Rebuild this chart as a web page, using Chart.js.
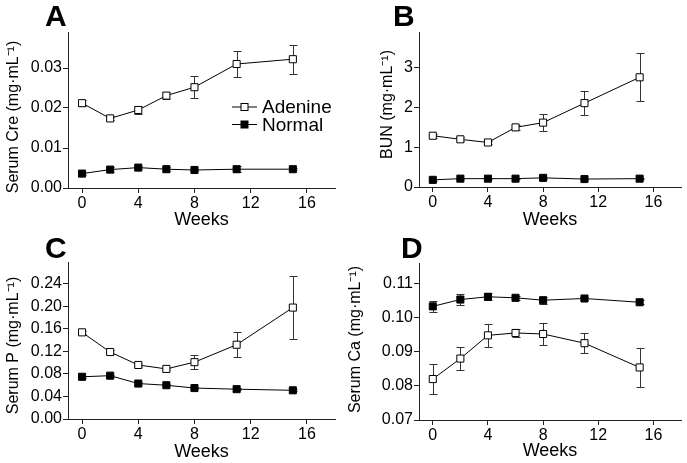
<!DOCTYPE html>
<html>
<head>
<meta charset="utf-8">
<script src="https://cdn.jsdelivr.net/npm/chart.js@4"></script>
<style>
  body { margin: 0; background: #fff; }
  #wrap { position: relative; width: 687px; height: 463px; background: #fff; }
  canvas { position: absolute; }
  .lbl { position: absolute; font: bold 30px "Liberation Sans", Arial, sans-serif; line-height: 30px; color: #000; }
</style>
</head>
<body>
<div id="wrap">
  <canvas id="cA" width="343" height="231" style="left:0;top:0"></canvas>
  <canvas id="cB" width="344" height="231" style="left:343px;top:0"></canvas>
  <canvas id="cC" width="343" height="232" style="left:0;top:231px"></canvas>
  <canvas id="cD" width="344" height="232" style="left:343px;top:231px"></canvas>
  <div class="lbl" style="left:45px;top:1px">A</div>
  <div class="lbl" style="left:393px;top:1px">B</div>
  <div class="lbl" style="left:45px;top:233px">C</div>
  <div class="lbl" style="left:401px;top:233px">D</div>
</div>
<script>
// sampling weeks
const weeks = [0, 2, 4, 6, 8, 11, 15];
const xTicks = [0, 4, 8, 12, 16];

// A: serum creatinine
const creAdenine = [0.0212, 0.0174, 0.0195, 0.0231, 0.0252, 0.0310, 0.0322];
const creAdenineErr = [0.0008, 0.0004, 0.0010, 0.0009, 0.0028, 0.0032, 0.0036];
const creNormal = [0.0036, 0.0046, 0.0051, 0.0047, 0.0045, 0.0047, 0.0047];
const creNormalErr = [0.0003, 0.0006, 0.0004, 0.0005, 0.0003, 0.0008, 0.0003];

// B: BUN
const bunAdenine = [1.29, 1.20, 1.12, 1.50, 1.62, 2.11, 2.76];
const bunAdenineErr = [0.05, 0.05, 0.05, 0.06, 0.22, 0.30, 0.60];
const bunNormal = [0.18, 0.21, 0.21, 0.21, 0.23, 0.20, 0.21];
const bunNormalErr = [0.02, 0.02, 0.02, 0.02, 0.03, 0.02, 0.02];

// C: serum phosphorus
const pAdenine = [0.154, 0.119, 0.096, 0.089, 0.101, 0.132, 0.198];
const pAdenineErr = [0.003, 0.003, 0.003, 0.002, 0.013, 0.022, 0.056];
const pNormal = [0.075, 0.077, 0.063, 0.060, 0.055, 0.053, 0.051];
const pNormalErr = [0.002, 0.002, 0.002, 0.002, 0.002, 0.002, 0.002];

// D: serum calcium
const caAdenine = [0.0820, 0.0880, 0.0948, 0.0955, 0.0952, 0.0925, 0.0854];
const caAdenineErr = [0.0045, 0.0034, 0.0033, 0.0013, 0.0033, 0.0030, 0.0057];
const caNormal = [0.1033, 0.1053, 0.1061, 0.1058, 0.1051, 0.1056, 0.1045];
const caNormalErr = [0.0017, 0.0017, 0.0010, 0.0005, 0.0010, 0.0005, 0.0006];

const FONT = "'Liberation Sans', Arial, sans-serif";
const AXIS = "#222";

// error bars drawn before the points so markers sit on top
const errorBars = {
  id: "errorBars",
  beforeDatasetsDraw(chart) {
    const ctx = chart.ctx;
    const y = chart.scales.y;
    ctx.save();
    ctx.strokeStyle = "#333";
    ctx.lineWidth = 1;
    chart.data.datasets.forEach((ds, i) => {
      const meta = chart.getDatasetMeta(i);
      meta.data.forEach((pt, j) => {
        const e = ds.errors[j];
        const top = Math.round(y.getPixelForValue(ds.data[j].y + e)) + 0.5;
        const bot = Math.round(y.getPixelForValue(ds.data[j].y - e)) + 0.5;
        const x = Math.round(pt.x) + 0.5;
        ctx.beginPath();
        ctx.moveTo(x, top); ctx.lineTo(x, bot);
        ctx.moveTo(x - 4, top); ctx.lineTo(x + 4, top);
        ctx.moveTo(x - 4, bot); ctx.lineTo(x + 4, bot);
        ctx.stroke();
      });
    });
    ctx.restore();
  }
};

// legend inside panel A
const innerLegend = {
  id: "innerLegend",
  afterDatasetsDraw(chart, args, opts) {
    if (!opts.show) return;
    const ctx = chart.ctx;
    ctx.save();
    chart.data.datasets.forEach((ds, i) => {
      const yy = opts.y + i * 17.5;
      ctx.strokeStyle = "#000";
      ctx.lineWidth = 1;
      ctx.beginPath();
      ctx.moveTo(opts.x, yy); ctx.lineTo(opts.x + 25, yy);
      ctx.stroke();
      ctx.fillStyle = ds.pointBackgroundColor;
      ctx.fillRect(opts.x + 9, yy - 3.5, 7, 7);
      ctx.strokeRect(opts.x + 9, yy - 3.5, 7, 7);
      ctx.fillStyle = "#000";
      ctx.font = "19px " + FONT;
      ctx.textBaseline = "middle";
      ctx.fillText(ds.label, opts.x + 30, yy + 1);
    });
    ctx.restore();
  }
};

// y axis title, placed by hand so it can sit off-centre like the original
const yTitle = {
  id: "yTitle",
  afterDraw(chart, args, opts) {
    const ctx = chart.ctx;
    const area = chart.chartArea;
    ctx.save();
    ctx.translate(opts.x, (area.top + area.bottom) / 2 + opts.shift);
    ctx.rotate(-Math.PI / 2);
    ctx.fillStyle = "#000";
    ctx.font = "16px " + FONT;
    ctx.textAlign = "center";
    ctx.textBaseline = "middle";
    ctx.fillText(opts.text, 0, 0);
    ctx.restore();
  }
};

function series(vals) {
  return vals.map((v, i) => ({ x: weeks[i], y: v }));
}

function makePanel(id, p) {
  const ds = (label, vals, errs, fill) => ({
    label: label,
    data: series(vals),
    errors: errs,
    borderColor: "#000",
    borderWidth: 1,
    pointStyle: "rect",
    pointRadius: 5,
    pointBorderWidth: 1,
    pointBorderColor: "#000",
    pointBackgroundColor: fill,
    tension: 0,
    clip: false
  });
  new Chart(document.getElementById(id), {
    type: "line",
    data: {
      datasets: [
        ds("Adenine", p.adenine, p.adenineErr, "#fff"),
        ds("Normal", p.normal, p.normalErr, "#000")
      ]
    },
    plugins: [errorBars, innerLegend, yTitle],
    options: {
      responsive: false,
      animation: false,
      events: [],
      layout: { padding: { top: p.top, right: p.right, left: 0, bottom: 0 } },
      plugins: {
        legend: { display: false },
        tooltip: { enabled: false },
        innerLegend: p.legend || { show: false },
        yTitle: { text: p.yTitle, x: p.yTitleX, shift: p.yTitleShift }
      },
      scales: {
        x: {
          type: "linear",
          min: -1,
          max: 18,
          afterBuildTicks: (s) => { s.ticks = xTicks.map(v => ({ value: v })); },
          afterFit: (s) => { s.height = p.xHeight; },
          grid: { drawOnChartArea: false, tickLength: 5, color: AXIS },
          border: { color: AXIS, width: 1 },
          ticks: { color: "#000", padding: 1, font: { family: FONT, size: 16 } },
          title: {
            display: true, text: "Weeks", color: "#000",
            font: { family: FONT, size: 18 },
            padding: { top: 0, bottom: p.xTitlePad }
          }
        },
        y: {
          min: p.yMin,
          max: p.yMax,
          afterBuildTicks: (s) => { s.ticks = p.yTicks.map(v => ({ value: v })); },
          afterFit: (s) => { s.width = p.yWidth; },
          grid: { drawOnChartArea: false, tickLength: 5, color: AXIS },
          border: { color: AXIS, width: 1 },
          ticks: {
            color: "#000", padding: 1, font: { family: FONT, size: 16 },
            callback: (v) => v.toFixed(p.digits)
          }
        }
      }
    }
  });
}

makePanel("cA", {
  adenine: creAdenine, adenineErr: creAdenineErr, normal: creNormal, normalErr: creNormalErr,
  yMin: 0, yMax: 0.039, yTicks: [0, 0.01, 0.02, 0.03], digits: 2,
  yTitle: "Serum Cre (mg·mL⁻¹)", yTitleX: 14, yTitleShift: 7,
  top: 32, right: 8, yWidth: 68, xHeight: 43, xTitlePad: 0.2,
  legend: { show: true, x: 232, y: 107 }
});
makePanel("cB", {
  adenine: bunAdenine, adenineErr: bunAdenineErr, normal: bunNormal, normalErr: bunNormalErr,
  yMin: 0, yMax: 3.9, yTicks: [0, 1, 2, 3], digits: 0,
  yTitle: "BUN (mg·mL⁻¹)", yTitleX: 45, yTitleShift: -5,
  top: 32, right: 4, yWidth: 76, xHeight: 44, xTitlePad: 0.2
});
makePanel("cC", {
  adenine: pAdenine, adenineErr: pAdenineErr, normal: pNormal, normalErr: pNormalErr,
  yMin: 0, yMax: 0.279, yTicks: [0, 0.04, 0.08, 0.12, 0.16, 0.20, 0.24], digits: 2,
  yTitle: "Serum P (mg·mL⁻¹)", yTitleX: 14, yTitleShift: 5,
  top: 31, right: 8, yWidth: 68, xHeight: 44, xTitlePad: 0.2
});
makePanel("cD", {
  adenine: caAdenine, adenineErr: caAdenineErr, normal: caNormal, normalErr: caNormalErr,
  yMin: 0.07, yMax: 0.116, yTicks: [0.07, 0.08, 0.09, 0.10, 0.11], digits: 2,
  yTitle: "Serum Ca (mg·mL⁻¹)", yTitleX: 13, yTitleShift: -2,
  top: 32, right: 4, yWidth: 76, xHeight: 43, xTitlePad: 1.6
});
</script>
</body>
</html>
